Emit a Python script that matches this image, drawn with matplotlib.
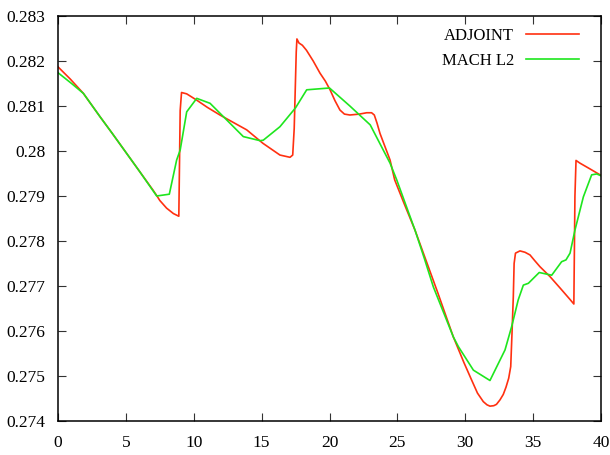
import matplotlib
matplotlib.use("Agg")
import matplotlib.pyplot as plt

adj_x = [0, 0.9, 1.87, 3.1, 4, 5, 6, 7, 7.27, 7.5, 8, 8.5, 8.9, 9.0, 9.1, 9.48, 10.22, 11.0, 11.93,
         13.0, 13.9, 15.1, 16.35, 17.09, 17.29, 17.4, 17.55, 17.6, 17.75, 18.0, 18.3, 18.8, 19.3,
         19.7, 20.04, 20.4, 20.77, 21.1, 21.5, 22.2, 22.74, 23.1, 23.3, 23.5, 23.72, 24.46, 24.8,
         25.5, 26.3, 27.0, 28.0, 29.12, 29.9, 30.47, 30.9, 31.33, 31.6, 31.82, 32.1, 32.3, 32.56,
         32.8, 33.0, 33.2, 33.35, 33.45, 33.54, 33.6, 33.7, 34.03, 34.4, 34.77, 35.1, 35.5, 36.24,
         37.0, 37.72, 38.0, 38.08, 38.16, 38.45, 39.2, 39.93, 40]
adj_y = [0.28187, 0.28160, 0.28128, 0.28076, 0.28039, 0.27997, 0.27955, 0.27913, 0.27901, 0.2789,
         0.27873, 0.27861, 0.27855, 0.2809, 0.28130, 0.28127, 0.28113, 0.28097, 0.2808, 0.28062,
         0.28047, 0.28017, 0.27991, 0.27986, 0.27991, 0.2805, 0.2822, 0.28249, 0.28240, 0.28235,
         0.28224, 0.28200, 0.28173, 0.28155, 0.28136, 0.28112, 0.28091, 0.28082, 0.2808, 0.28082,
         0.28085, 0.28085, 0.2808, 0.28062, 0.28039, 0.2798, 0.27936, 0.27883, 0.27824, 0.27766,
         0.27683, 0.27587, 0.27530, 0.27491, 0.27462, 0.27443, 0.27436, 0.27433, 0.27434, 0.27437,
         0.27447, 0.27459, 0.27475, 0.27495, 0.27521, 0.2760, 0.27676, 0.2775, 0.27773, 0.27778,
         0.27775, 0.27769, 0.27757, 0.27743, 0.27721, 0.27695, 0.2767, 0.27660, 0.2790, 0.27979,
         0.27973, 0.27960, 0.27947, 0.27946]

mach_x = [0, 1.0, 1.87, 3.1, 4, 5, 6, 7.27, 8.2, 8.74, 9.0, 9.48, 10.22, 11.2, 11.93, 13.65, 14.88,
          15.12, 16.35, 17.5, 18.32, 20.0, 21.5, 23.0, 24.46, 24.95, 26.3, 27.0, 27.65, 29.12, 29.5,
          30.6, 31.82, 32.93, 33.42, 33.9, 34.28, 34.65, 35.45, 36.37, 37.1, 37.42, 37.72, 38.08,
          38.7, 39.31, 39.68, 40]
mach_y = [0.28174, 0.2815, 0.28128, 0.28076, 0.28039, 0.27997, 0.27955, 0.279, 0.27904, 0.2798,
          0.28002, 0.28087, 0.28117, 0.28106, 0.28084, 0.28032, 0.28023, 0.28024, 0.28054, 0.28096,
          0.28136, 0.2814, 0.281, 0.28058, 0.27973, 0.27936, 0.27824, 0.2776, 0.27698, 0.27587,
          0.27565, 0.27513, 0.2749, 0.27558, 0.2761, 0.27669, 0.27702, 0.27706, 0.2773, 0.27724,
          0.27754, 0.27758, 0.27773, 0.27824, 0.27898, 0.27947, 0.27949, 0.27945]

x_ticks = [0, 5, 10, 15, 20, 25, 30, 35, 40]
y_ticks = [0.274, 0.275, 0.276, 0.277, 0.278, 0.279, 0.28, 0.281, 0.282, 0.283]
y_labels = ["0.274", "0.275", "0.276", "0.277", "0.278", "0.279", "0.28", "0.281", "0.282", "0.283"]

plt.rcParams['font.family'] = ['Liberation Serif', 'DejaVu Serif']

fig = plt.figure(figsize=(6.1, 4.55), dpi=100)
ax = fig.add_axes([58/610, 1 - 421/455, 543/610, 405/455])

ax.plot(adj_x, adj_y, color='#ff3010', lw=1.2, label='ADJOINT')
ax.plot(mach_x, mach_y, color='#1ee61e', lw=1.2, label='MACH L2')

ax.set_xlim(0, 40)
ax.set_ylim(0.274, 0.283)
ax.set_xticks(x_ticks)
ax.set_xticklabels([str(t) for t in x_ticks])
ax.set_yticks(y_ticks)
ax.set_yticklabels(y_labels)
ax.tick_params(direction='in', length=5.5, width=0.8, colors='#333333',
               labelcolor='black', labelsize=12.5, top=True, right=True)
ax.tick_params(axis='y', pad=9)
ax.tick_params(axis='x', pad=10)
for s in ax.spines.values():
    s.set_linewidth(1.1)
    s.set_color('black')

ax.legend(loc='upper right', bbox_to_anchor=(0.9595, 0.970), frameon=False, markerfirst=False,
          fontsize=12, handlelength=3.2, handletextpad=0.7, labelspacing=0.55,
          borderpad=0, borderaxespad=0)

fig.savefig('out.png', dpi=100)
